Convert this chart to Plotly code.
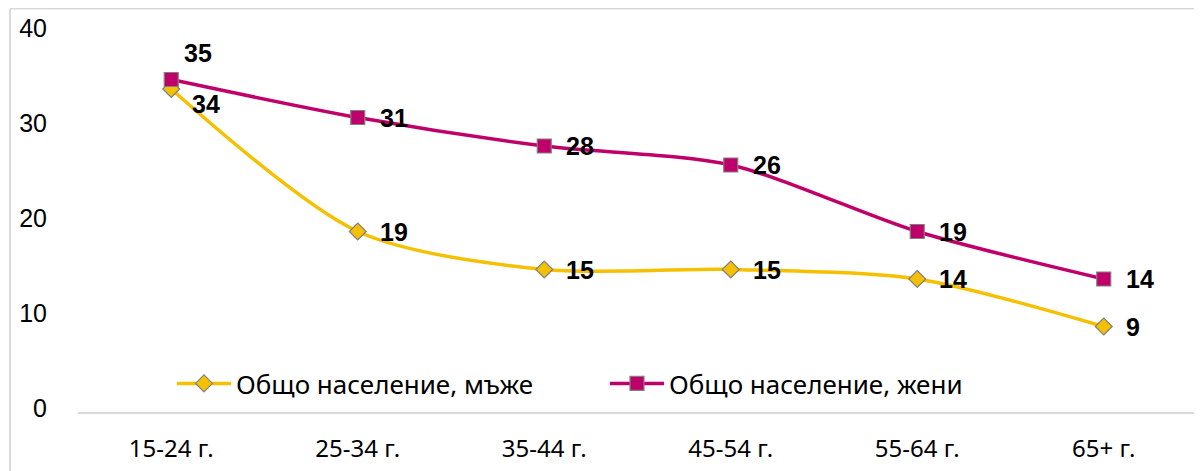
import plotly.graph_objects as go

categories = ["15-24 г.", "25-34 г.", "35-44 г.", "45-54 г.", "55-64 г.", "65+ г."]
men = [34, 19, 15, 15, 14, 9]
women = [35, 31, 28, 26, 19, 14]
men_name = "Общо население, мъже"
women_name = "Общо население, жени"
y_ticks = [0, 10, 20, 30, 40]

MEN_C = "#F5C000"
WOMEN_C = "#C0006A"

# page body has an 8px default margin; figure sized to compensate
W, H = 1194, 463
ML, MR, MT, MB = 70, 5, 24, 59
PW, PH = W - ML - MR, H - MT - MB

fig = go.Figure()
fig.add_trace(go.Scatter(
    x=categories, y=men, name=men_name, mode="lines+markers",
    line=dict(color=MEN_C, width=3.5, shape="spline", smoothing=0.8),
    marker=dict(symbol="diamond", size=13, color=MEN_C, line=dict(color="#808080", width=1.2)),
))
fig.add_trace(go.Scatter(
    x=categories, y=women, name=women_name, mode="lines+markers",
    line=dict(color=WOMEN_C, width=3.5, shape="spline", smoothing=0.8),
    marker=dict(symbol="square", size=14, color=WOMEN_C, line=dict(color="#808080", width=1.2)),
))

# data labels
men_shift = [(19, -15)] + [(20, 0)] * 5
women_shift = [(11, 27)] + [(20, 0)] * 5
for series, shifts in ((men, men_shift), (women, women_shift)):
    for c, v, (dx, dy) in zip(categories, series, shifts):
        fig.add_annotation(x=c, y=v, text=str(v), showarrow=False,
                           xanchor="left", yanchor="middle", xshift=dx, yshift=dy,
                           font=dict(family="Liberation Sans, Arial", size=25, color="#000000",
                                     weight="bold"))

# frame lines (top and left)
fx0 = (2 - ML) / PW
fy1 = (PH + MT - 0.5) / PH
fy0 = -MB / PH
fig.add_shape(type="line", xref="paper", yref="paper", x0=fx0, x1=1.01, y0=fy1, y1=fy1,
              line=dict(color="#D9D9D9", width=2))
fig.add_shape(type="line", xref="paper", yref="paper", x0=fx0, x1=fx0, y0=fy1, y1=fy0,
              line=dict(color="#D9D9D9", width=2))

fig.update_layout(
    width=W, height=H,
    margin=dict(l=ML, r=MR, t=MT, b=MB, autoexpand=False),
    paper_bgcolor="white", plot_bgcolor="white",
    showlegend=True,
    legend=dict(orientation="h", x=0.084, y=0.075, xanchor="left", yanchor="middle",
                font=dict(family="Noto Sans", size=26, color="#000000"),
                itemwidth=54,
                entrywidth=364, entrywidthmode="pixels", bgcolor="rgba(0,0,0,0)"),
    xaxis=dict(range=[-0.5, 5.5], showgrid=False, showline=True, linecolor="#D9D9D9", linewidth=1.5,
               ticks="", tickfont=dict(family="Noto Sans", size=24, color="#000000"),
               ticklabelstandoff=14, fixedrange=True),
    yaxis=dict(range=[0, 40], tickvals=y_ticks, showgrid=False, zeroline=False, showline=False,
               ticks="", tickfont=dict(family="Liberation Sans, Arial", size=25, color="#000000"),
               ticklabelstandoff=30, ticklabelshift=-4, fixedrange=True),
)

fig.write_html("out.html")
